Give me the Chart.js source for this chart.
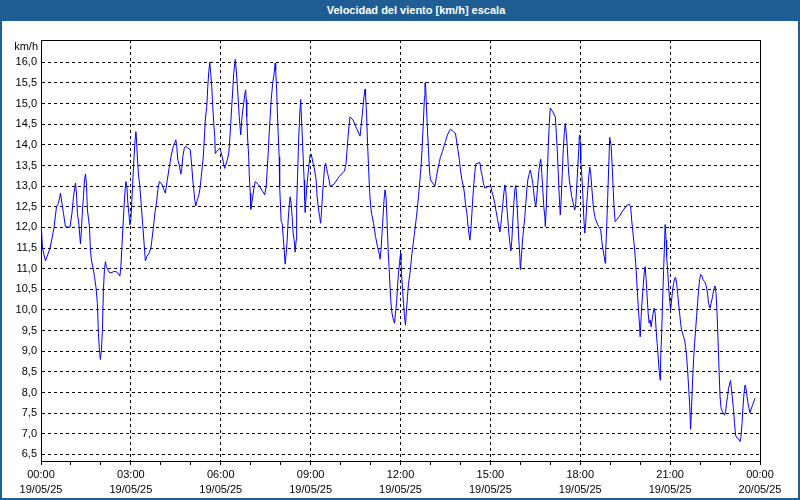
<!DOCTYPE html>
<html>
<head>
<meta charset="utf-8">
<script src="https://cdn.jsdelivr.net/npm/chart.js@4.4.1/dist/chart.umd.min.js"></script>
<style>
	html,body{margin:0;padding:0;background:#fff;}
	#wrap{position:relative;width:800px;height:500px;overflow:hidden;background:#fff;}
	#grafico{position:absolute;left:0;top:0;}
	#titulo{position:absolute;left:0;top:0;width:800px;height:21px;box-sizing:border-box;padding-left:32px;
		background:#1f5e94;color:#fff;text-align:center;font:bold 11px "Liberation Sans",Arial,sans-serif;line-height:21px;}
	#marco{position:absolute;left:0;top:0;width:796px;height:496px;border:2px solid #1f5e94;pointer-events:none;}
</style>
</head>
<body>
<div id="wrap">
	<canvas id="grafico" width="800" height="500"></canvas>
	<div id="titulo">Velocidad del viento [km/h] escala</div>
	<div id="marco"></div>
</div>
<script>
// Velocidad del viento, 19/05/25 (minutos desde las 00:00)
const minutos = [
	// 00:00 - 04:00
	0,3,9,18,26,31,35,39,42,45,
	49,58,62,65,69,71,73,76,79,81,
	83,85,87,89,91,93,97,99,101,105,
	107,110,113,115,117,119,121,123,125,127,
	129,131,134,138,146,150,154,158,160,162,
	164,166,168,170,172,174,176,178,180,182,
	184,186,188,190,191,193,195,198,201,204,
	206,209,212,216,220,222,225,228,232,234,
	237,
	// 04:00 - 08:00
	238,242,245,249,253,257,261,265,270,272,
	274,277,280,282,284,287,290,293,299,302,
	304,306,308,310,312,314,317,319,321,323,
	325,327,329,332,334,336,338,340,342,344,
	346,348,349,352,355,358,360,363,365,368,
	370,373,376,378,380,382,384,386,389,391,
	393,395,397,400,402,404,406,408,410,411,
	412,414,416,417,419,420,422,424,427,429,
	436,444,448,451,453,455,457,459,461,464,
	467,469,470,472,473,475,477,478,480,481,
	// 08:00 - 12:00
	483,485,487,489,491,493,495,497,499,501,
	503,505,507,509,511,512,514,516,518,520,
	521,523,525,527,528,529,531,533,535,537,
	539,541,543,545,548,551,553,556,558,560,
	562,564,566,568,570,572,574,577,579,587,
	597,608,611,613,615,617,619,625,632,639,
	641,643,645,647,649,650,652,654,656,658,
	660,662,666,670,674,678,679,681,683,685,
	687,689,691,693,695,697,699,701,703,705,
	708,710,712,714,716,718,720,
	// 12:00 - 16:00
	721,722,724,726,728,730,732,734,736,739,
	743,748,752,756,760,762,764,766,768,769,
	770,772,774,776,778,780,786,789,792,795,
	798,800,804,807,810,814,817,820,826,830,
	832,835,838,840,843,846,848,850,853,855,
	857,859,861,863,865,867,869,871,879,881,
	884,886,889,897,901,903,906,909,911,914,
	917,919,921,923,925,927,929,931,933,935,
	937,939,941,943,945,947,949,951,953,955,
	957,959,960,
	// 16:00 - 20:00
	961,963,965,967,969,971,973,975,978,980,
	982,985,987,989,991,993,995,997,999,1001,
	1003,1005,1007,1009,1010,1012,1014,1016,1018,1020,
	1025,1030,1032,1034,1036,1038,1040,1042,1044,1046,
	1048,1050,1052,1054,1056,1058,1061,1063,1066,1069,
	1071,1073,1075,1077,1078,1079,1080,1081,1083,1085,
	1087,1089,1091,1093,1095,1097,1099,1101,1103,1105,
	1107,1110,1115,1121,1123,1125,1128,1130,1131,1133,
	1135,1137,1139,1142,1144,1146,1148,1150,1158,1166,
	1174,1178,1181,1183,1185,1187,1189,1191,1193,1195,
	1197,1199,1200,
	// 20:00 - 24:00
	1202,1204,1206,1208,1210,1212,1214,1216,1218,1220,
	1222,1224,1226,1228,1230,1232,1234,1236,1238,1240,
	1241,1243,1245,1247,1249,1250,1252,1253,1255,1257,
	1259,1261,1263,1265,1267,1269,1271,1273,1275,1277,
	1279,1281,1283,1287,1289,1291,1293,1295,1297,1299,
	1301,1303,1305,1307,1309,1311,1313,1315,1317,1319,
	1321,1324,1326,1329,1332,1335,1337,1340,1342,1345,
	1347,1350,1352,1354,1356,1358,1360,1362,1365,1369,
	1371,1373,1375,1377,1381,1383,1385,1387,1389,1391,
	1393,1396,1400,1402,1404,1406,1408,1410,1412,1414,
	1416,1418,1420,1424,1428,1430
];

const kmh = [
	// 00:00 - 04:00
	12.18,11.49,11.19,11.49,11.98,12.50,12.58,12.83,12.58,12.34,
	12.02,12.00,12.34,12.74,13.07,12.83,12.34,12.06,11.60,11.94,
	12.42,12.74,13.15,13.29,13.07,12.42,12.02,11.45,11.21,10.97,
	10.81,10.56,10.16,9.43,9.03,8.80,9.03,9.51,10.48,10.97,
	11.17,11.05,10.97,10.89,10.93,10.93,10.89,10.82,11.05,11.53,
	11.98,12.42,12.83,13.11,12.99,12.58,12.34,12.06,12.18,12.66,
	13.15,13.63,14.04,14.32,14.20,13.71,13.31,12.99,12.50,12.02,
	11.69,11.19,11.29,11.37,11.49,11.69,11.98,12.34,12.66,12.91,
	13.11,
	// 04:00 - 08:00
	13.11,13.05,12.95,12.83,13.15,13.47,13.75,13.96,14.12,13.96,
	13.63,13.51,13.29,13.43,13.71,13.92,13.97,13.93,13.88,13.47,
	13.15,12.91,12.66,12.52,12.62,12.70,12.83,12.99,13.23,13.47,
	13.71,14.12,14.60,14.93,15.41,15.77,16.00,15.73,15.41,14.93,
	14.52,14.20,13.79,13.84,13.88,13.92,13.84,13.71,13.59,13.43,
	13.51,13.63,13.79,14.12,14.52,14.93,15.33,15.73,16.07,15.81,
	15.49,15.09,14.68,14.24,14.60,14.84,15.01,15.21,15.33,15.09,
	14.68,14.12,13.71,13.31,12.83,12.44,12.58,12.74,12.99,13.11,
	13.03,12.87,12.79,12.99,13.39,13.79,14.28,14.68,15.09,15.49,
	15.73,15.98,15.81,15.33,14.93,14.28,13.71,12.99,12.42,12.14,
	// 08:00 - 12:00
	12.10,11.78,11.45,11.11,11.37,11.69,12.18,12.50,12.74,12.58,
	12.26,11.86,11.69,11.40,11.69,12.50,13.31,14.12,14.68,15.10,
	14.84,14.28,13.71,13.15,12.66,12.36,12.74,13.07,13.31,13.55,
	13.75,13.78,13.67,13.55,13.39,13.15,12.74,12.42,12.26,12.10,
	12.42,12.83,13.15,13.47,13.55,13.43,13.31,13.15,12.99,13.05,
	13.23,13.37,13.55,13.88,14.20,14.48,14.68,14.60,14.40,14.21,
	14.44,14.68,14.93,15.17,15.35,15.21,14.76,14.04,13.47,12.91,
	12.54,12.34,12.10,11.78,11.53,11.33,11.23,11.45,11.86,12.26,
	12.66,12.91,12.74,12.18,11.53,11.05,10.56,10.16,9.92,9.80,
	9.68,9.92,10.16,10.56,10.89,11.13,11.37,
	// 12:00 - 16:00
	11.21,10.89,10.52,10.16,9.84,9.63,10.00,10.32,10.64,10.89,
	11.37,11.86,12.26,12.74,13.31,13.63,14.12,14.60,15.17,15.49,
	15.51,14.93,14.36,13.88,13.39,13.15,13.05,13.00,13.23,13.43,
	13.59,13.71,13.84,13.96,14.08,14.24,14.32,14.38,14.32,14.28,
	14.12,13.88,13.63,13.39,13.15,12.99,12.83,12.58,12.34,12.06,
	11.86,11.69,11.94,12.34,12.74,13.07,13.35,13.54,13.57,13.39,
	13.23,13.07,12.95,13.00,12.99,12.87,12.74,12.58,12.42,12.22,
	12.02,11.89,12.06,12.34,12.58,12.83,13.03,12.87,12.50,12.18,
	11.86,11.61,11.43,11.69,12.18,12.58,12.91,13.02,12.66,12.18,
	11.69,11.29,10.98,
	// 16:00 - 20:00
	11.13,11.45,11.78,12.02,12.26,12.58,12.91,13.15,13.31,13.39,
	13.27,13.07,12.83,12.62,12.50,12.74,13.07,13.35,13.55,13.65,
	13.31,12.91,12.50,12.26,12.02,12.50,13.31,13.96,14.52,14.89,
	14.80,14.68,14.28,13.88,13.31,12.74,12.30,12.74,13.31,13.88,
	14.28,14.52,14.28,13.96,13.47,13.15,12.91,12.74,12.58,12.42,
	12.58,12.99,13.47,13.88,14.20,14.24,14.04,13.63,13.31,12.83,
	12.26,11.86,12.10,12.58,12.91,13.23,13.46,13.31,12.99,12.66,
	12.42,12.22,12.06,11.94,11.69,11.49,11.29,11.13,11.45,12.02,
	12.74,13.47,14.18,13.96,13.47,12.91,12.42,12.14,12.26,12.42,
	12.54,12.56,12.50,12.18,11.94,11.69,11.45,11.13,10.73,10.32,
	9.92,9.59,9.35,
	// 20:00 - 24:00
	9.84,10.24,10.56,10.89,11.05,10.73,10.32,9.92,9.68,9.76,
	9.59,9.76,9.92,10.04,9.92,9.51,9.19,8.87,8.54,8.30,
	8.79,9.43,10.24,10.97,11.69,12.07,11.69,11.29,10.97,10.56,
	10.24,10.00,10.24,10.48,10.64,10.77,10.79,10.64,10.40,10.16,
	9.92,9.68,9.51,9.35,9.27,9.11,8.87,8.54,8.14,7.74,
	7.11,7.66,8.30,8.79,9.19,9.51,9.84,10.16,10.48,10.73,
	10.86,10.81,10.73,10.69,10.60,10.40,10.16,10.04,10.16,10.32,
	10.48,10.58,10.40,9.92,9.27,8.54,7.90,7.62,7.53,7.45,
	7.53,7.74,7.90,8.10,8.29,8.06,7.82,7.58,7.25,6.97,
	6.91,6.89,6.81,6.93,7.25,7.66,7.98,8.18,8.10,7.90,
	7.74,7.62,7.51,7.66,7.79,7.86
];

// Etiquetas de ejes
const horasEtiqueta = ['00:00','03:00','06:00','09:00','12:00','15:00','18:00','21:00','00:00'];
const fechasEtiqueta = ['19/05/25','19/05/25','19/05/25','19/05/25','19/05/25','19/05/25','19/05/25','19/05/25','20/05/25'];
const valoresY = [6.5,7.0,7.5,8.0,8.5,9.0,9.5,10.0,10.5,11.0,11.5,12.0,12.5,13.0,13.5,14.0,14.5,15.0,15.5,16.0];
const unidad = 'km/h';

(function(){
	const fuente = {family:'"Liberation Sans", Arial, sans-serif', size:11, lineHeight:1.4};

	// marcas menores cada hora, etiquetas cada 3 horas
	const marcasX = [];
	for(let h=0;h<=24;h++) marcasX.push(h*60);

	// marco superior/derecho y unidad del eje
	const rotulos = {
		id:'rotulos',
		afterDraw(chart){
			const {ctx, chartArea:a} = chart;
			ctx.save();
			ctx.strokeStyle = '#000'; ctx.lineWidth = 1;
			ctx.beginPath();
			ctx.moveTo(a.left, a.top+0.5);
			ctx.lineTo(a.right+0.5, a.top+0.5);
			ctx.lineTo(a.right+0.5, a.bottom);
			ctx.stroke();
			ctx.fillStyle = '#000';
			ctx.font = '11px "Liberation Sans", Arial, sans-serif';
			ctx.textAlign = 'right'; ctx.textBaseline = 'middle';
			ctx.fillText(unidad, a.left-3, a.top+7);
			ctx.restore();
		}
	};

	const puntos = minutos.map((m,i)=>({x:m, y:kmh[i]}));

	new Chart(document.getElementById('grafico').getContext('2d'), {
		type:'line',
		data:{ datasets:[{ data:puntos, borderColor:'#0000ff', borderWidth:1, pointRadius:0, tension:0, fill:false }] },
		options:{
			responsive:false, animation:false, devicePixelRatio:1,
			layout:{ padding:{top:40, right:40, bottom:0, left:0} },
			plugins:{ legend:{display:false}, tooltip:{enabled:false} },
			scales:{
				x:{
					type:'linear', min:0, max:1440,
					afterBuildTicks: s => { s.ticks = marcasX.map(v=>({value:v})); },
					afterFit: s => { s.height = 39; },
					grid:{
						color: c => (c.tick && c.tick.value % 180 === 0) ? '#000' : 'rgba(0,0,0,0)',
						lineWidth:1, tickColor:'#000', tickLength:4, drawTicks:true
					},
					border:{display:true, color:'#000', width:1, dash:[3,3]},
					ticks:{
						autoSkip:false, maxRotation:0, minRotation:0, padding:2, color:'#000', font:fuente,
						callback: v => v % 180 === 0 ? [horasEtiqueta[v/180], fechasEtiqueta[v/180]] : ''
					}
				},
				y:{
					min:6.34, max:16.54,
					afterBuildTicks: s => { s.ticks = valoresY.map(v=>({value:v})); },
					afterFit: s => { s.width = 41; },
					grid:{ color:'#000', lineWidth:1, drawTicks:false },
					border:{display:true, color:'#000', width:1, dash:[3,3]},
					ticks:{ padding:4, color:'#000', font:fuente, callback: v => Number(v).toFixed(1).replace('.',',') }
				}
			}
		},
		plugins:[rotulos]
	});
})();
</script>
</body>
</html>
